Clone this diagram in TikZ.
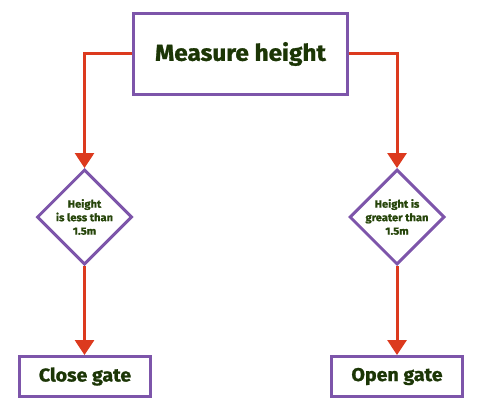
\documentclass[tikz,border=0pt]{standalone}
\usepackage{fontspec}
\setmainfont{Fira Sans}[BoldFeatures={FakeBold=1.2,FakeStretch=1.06}]
\usetikzlibrary{arrows.meta,shapes.geometric}
\definecolor{boxpurple}{HTML}{7D55AA}
\definecolor{arrred}{HTML}{DC3A1E}
\definecolor{txtgreen}{HTML}{1C3606}
\definecolor{dtxtgreen}{HTML}{26450A}
\tikzset{
  box/.style={draw=boxpurple, line width=3pt, rectangle, inner sep=0pt, font=\bfseries, text=txtgreen},
  decision/.style={draw=boxpurple, line width=3pt, diamond, aspect=1, minimum width=95pt, minimum height=95pt, inner sep=0pt},
  dtext/.style={font=\bfseries\fontsize{10.5}{13.5}\selectfont, text=dtxtgreen, align=center, inner sep=0pt},
  arr/.style={draw=arrred, line width=3pt, -{Triangle[width=19pt,length=15pt]}}
}
\begin{document}
\begin{tikzpicture}[x=1pt,y=1pt]
\useasboundingbox (0,0) rectangle (481,-409);
\node[box, minimum width=214pt, minimum height=81pt, font=\bfseries\fontsize{23}{26}\selectfont] (top) at (240.5,-54) {Measure height};
\node[decision] (d1) at (84.5,-217) {};
\node[dtext] (d1t) at (84.5,-217) {Height\\is less than\\1.5m};
\node[decision] (d2) at (397,-217) {};
\node[dtext] (d2t) at (397,-217) {Height is\\greater than\\1.5m};
\node[box, minimum width=131pt, minimum height=40pt, font=\bfseries\fontsize{18.5}{21}\selectfont] (b1) at (85,-376.5) {Close gate};
\node[box, minimum width=131pt, minimum height=40pt, font=\bfseries\fontsize{18.5}{21}\selectfont] (b2) at (397,-376.5) {Open gate};
\draw[arr] (top.west) -| (d1.north);
\draw[arr] (top.east) -| (d2.north);
\draw[arr] (d1.south) -- (d1.south |- b1.north);
\draw[arr] (d2.south) -- (b2.north);
\end{tikzpicture}
\end{document}
